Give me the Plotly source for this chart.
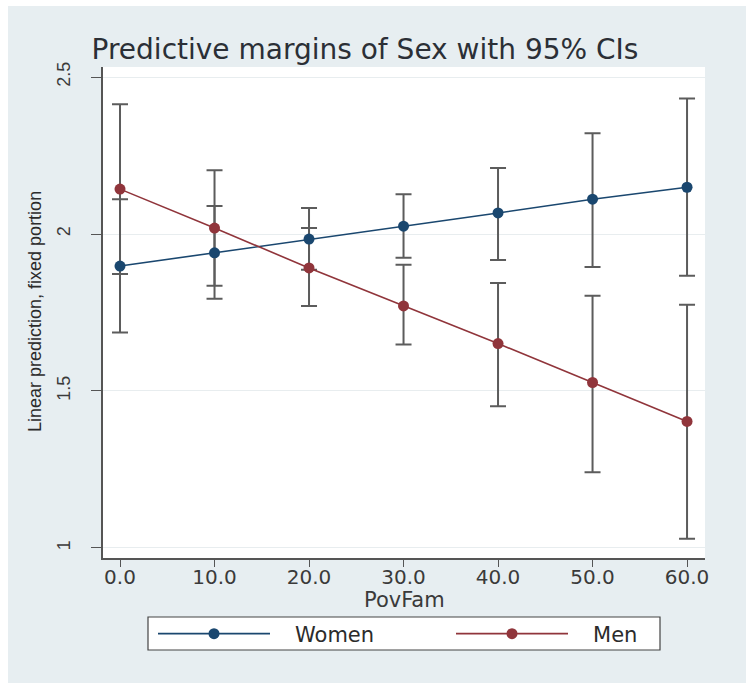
import plotly.graph_objects as go

# ---- data ----
pov_fam = [0, 10, 20, 30, 40, 50, 60]
x_tick_labels = ["0.0", "10.0", "20.0", "30.0", "40.0", "50.0", "60.0"]
y_tick_vals = [1, 1.5, 2, 2.5]
y_tick_labels = ["1", "1.5", "2", "2.5"]

women_margin = [1.898, 1.940, 1.984, 2.025, 2.067, 2.111, 2.149]
women_upper = [2.111, 2.089, 2.083, 2.127, 2.210, 2.321, 2.432]
women_lower = [1.686, 1.794, 1.886, 1.924, 1.917, 1.895, 1.867]

men_margin = [2.143, 2.019, 1.892, 1.771, 1.651, 1.527, 1.403]
men_upper = [2.413, 2.203, 2.019, 1.902, 1.844, 1.803, 1.775]
men_lower = [1.873, 1.835, 1.771, 1.648, 1.451, 1.241, 1.029]

series_names = ["Women", "Men"]

# ---- style ----
W, H = 746, 683
L, R, T, B = 103, 705, 67, 558
BG = "#e7eef1"
NAVY = "#1a476f"
MAROON = "#90353b"
CI_COLOR = "#5c5c5c"
TXT = "#2b2f36"
HFONT = "DejaVu Sans"
VFONT = "Liberation Sans"
NB = "\u00a0"

def px(xp):
    return (xp - L) / (R - L)

def py(yp):
    return (B - yp) / (B - T)

fig = go.Figure()

series = [
    (series_names[0], women_margin, women_upper, women_lower, NAVY, "legend"),
    (series_names[1], men_margin, men_upper, men_lower, MAROON, "legend2"),
]

# confidence-interval caps (drawn first, under the lines/markers)
for name, m, up, lo, col, lg in series:
    fig.add_trace(go.Scatter(
        x=pov_fam, y=m, mode="markers",
        marker=dict(size=1, opacity=0),
        error_y=dict(type="data", symmetric=False,
                     array=[u - v for u, v in zip(up, m)],
                     arrayminus=[v - l for v, l in zip(m, lo)],
                     color=CI_COLOR, thickness=2, width=8),
        showlegend=False, hoverinfo="skip",
    ))

for name, m, up, lo, col, lg in series:
    fig.add_trace(go.Scatter(
        x=pov_fam, y=m, mode="lines+markers", name=NB * 3 + name,
        line=dict(color=col, width=1.6),
        marker=dict(color=col, size=11),
        legend=lg,
    ))

leg_common = dict(orientation="h", xanchor="left", yanchor="middle",
                  xref="paper", yref="paper",
                  bgcolor="rgba(0,0,0,0)", borderwidth=0, itemwidth=112,
                  font=dict(family=HFONT, size=21, color="#2b2b2b"))

fig.update_layout(
    width=W, height=H,
    margin=dict(l=L, r=W - R, t=T, b=H - B, pad=0, autoexpand=False),
    paper_bgcolor="white",
    plot_bgcolor="white",
    title=dict(text="Predictive margins of Sex with 95% CIs",
               font=dict(family=HFONT, size=28, color=TXT),
               x=365 / W, xanchor="center", xref="container",
               y=1 - 49 / H, yanchor="middle", yref="container"),
    xaxis=dict(range=[-1.8, 61.9], tickmode="array", tickvals=pov_fam,
               ticktext=x_tick_labels, ticks="outside", ticklen=7,
               tickwidth=1.2, tickcolor="#555", showline=True,
               linecolor="#555", linewidth=1.5, showgrid=False,
               zeroline=False, ticklabelstandoff=-7,
               tickfont=dict(family=HFONT, size=20, color="#3a3a3a")),
    yaxis=dict(range=[0.968, 2.532], tickmode="array", tickvals=y_tick_vals,
               ticktext=y_tick_labels, ticks="outside", ticklen=10,
               tickwidth=1.2, tickcolor="#555", showline=True,
               linecolor="#555", linewidth=1.5, showgrid=True,
               gridcolor="#e8edef", gridwidth=1, zeroline=False,
               tickangle=-90, ticklabelstandoff=14,
               tickfont=dict(family=VFONT, size=18, color="#3a3a3a")),
    showlegend=True,
    legend=dict(x=px(153), y=py(634), **leg_common),
    legend2=dict(x=px(451), y=py(634), **leg_common),
    shapes=[
        dict(type="rect", xref="paper", yref="paper",
             x0=px(8), x1=px(W + 5), y0=py(H + 5), y1=py(6),
             fillcolor=BG, line=dict(width=0), layer="below"),
        dict(type="rect", xref="paper", yref="paper",
             x0=0, x1=1, y0=0, y1=1,
             fillcolor="white", line=dict(width=0), layer="below"),
        dict(type="rect", xref="paper", yref="paper",
             x0=px(148), x1=px(660), y0=py(650), y1=py(617),
             fillcolor="white", line=dict(width=1.2, color="#444"),
             layer="below"),
    ],
    annotations=[
        dict(text="Linear prediction, fixed portion", xref="paper", yref="paper",
             x=px(35), y=py(312), textangle=-90, showarrow=False,
             xanchor="center", yanchor="middle",
             font=dict(family=VFONT, size=18, color="#2b2b2b")),
        dict(text="PovFam", xref="paper", yref="paper",
             x=0.5, y=py(600), showarrow=False,
             xanchor="center", yanchor="middle",
             font=dict(family=HFONT, size=21, color="#3a3a3a")),
    ],
)

fig.write_html("out.html")
